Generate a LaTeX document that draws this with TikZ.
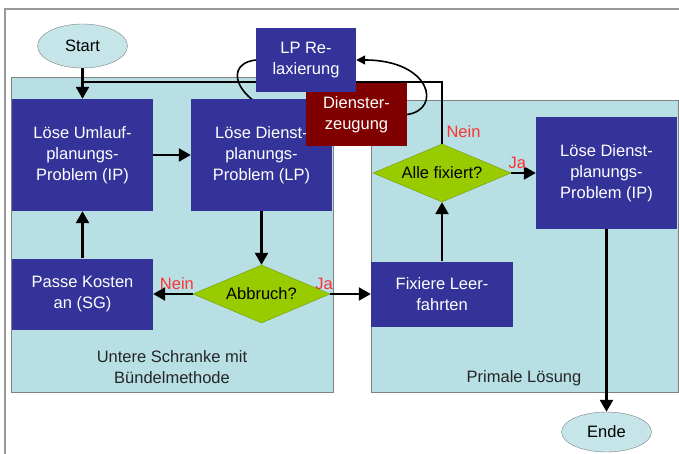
\documentclass[tikz,border=0pt]{standalone}
\usepackage{fontspec}
\setmainfont{Liberation Sans}
\usepackage{tikz}
\usetikzlibrary{
	arrows.meta,shapes
}
\definecolor{dunkelblau}{RGB}{51,51,153}
\definecolor{weinrot}{RGB}{128,0,0}
\definecolor{hellgruen}{RGB}{153,204,0}
\definecolor{tuerkis}{RGB}{183,223,228}
\definecolor{signalrot}{RGB}{255,51,51}
\pgfdeclarelayer{felder}
\pgfdeclarelayer{linien}
\pgfsetlayers{felder,linien,main}

\begin{document}
\begin{tikzpicture}[x=1pt,y=-1pt,
		font=\fontsize{16.5}{21}\selectfont,
		kasten/.style={rectangle,fill=dunkelblau,text=white,align=center,inner sep=0pt},
		raute/.style={diamond,aspect=2.4,fill=hellgruen,draw=hellgruen!75!black,inner sep=0pt,
			minimum width=137pt,minimum height=58pt},
		oval/.style={ellipse,fill=tuerkis!80!white,draw=gray,minimum width=90pt},
		marke/.style={text=signalrot}]
		\useasboundingbox (0,0) rectangle (679,454);
		\draw[gray!80,line width=1.2pt] (5,454) -- (5,9) -- (679,9);
		%
		\node[oval,minimum height=44pt] (St) at (82.5,46) {Start};
		\node[kasten,minimum width=141pt,minimum height=112pt] (UP) at (82.5,155) {Löse Umlauf-\\planungs-\\Problem (IP)};
		\node[kasten,minimum width=141pt,minimum height=112pt] (DLP) at (261.5,155) {Löse Dienst-\\planungs-\\Problem (LP)};
		\node[kasten,fill=weinrot,minimum width=101pt,minimum height=63pt] (DE) at (356.5,114.5) {Dienster-\\zeugung};
		\node[kasten,minimum width=100pt,minimum height=64pt] (LPR) at (306,60) {LP Re-\\laxierung};
		\node[kasten,minimum width=141pt,minimum height=71pt] (PK) at (82.5,294) {Passe Kosten\\an (SG)};
		\node[raute] (AB) at (261.5,294) {Abbruch?};
		\node[kasten,minimum width=142pt,minimum height=65pt] (FL) at (442,294) {Fixiere Leer-\\fahrten};
		\node[raute,minimum width=138pt] (AF) at (442,173) {Alle fixiert?};
		\node[kasten,minimum width=141pt,minimum height=112pt] (DIP) at (606.5,173) {Löse Dienst-\\planungs-\\Problem (IP)};
		\node[oval,minimum height=40pt] (En) at (606.5,432) {Ende};
		%
		\node[align=center,text=black!85] (US) at (172,367) {Untere Schranke mit\\Bündelmethode};
		\node[text=black!85] (PL) at (524,378) {Primale Lösung};
		\coordinate (knick) at (82.5,82);
		%
		\begin{pgfonlayer}{felder}
			\draw[gray,fill=tuerkis] (11,77) rectangle (333,392);
			\draw[gray,fill=tuerkis] (371,100) rectangle (678,392);
		\end{pgfonlayer}
		%
		\begin{pgfonlayer}{linien}
			\path[->,line width=2.4pt,>={Triangle[length=12pt,width=13pt]}]
				(St) edge (UP)
				(UP) edge (DLP)
				(DLP) edge (AB)
				(AB) edge node[marke,above,pos=0.4] {Nein} (PK)
				(PK) edge (UP)
				(AB) edge node[marke,above,pos=0,xshift=-6pt] {Ja} (FL)
				(FL) edge (AF)
				(AF) edge node[marke,above,pos=0.25] {Ja} (DIP)
				(DIP) edge (En);
			\draw[line width=2.4pt] (AF.north) |- node[marke,pos=0.1,right] {Nein} (knick);
			%
			\path[->,line width=1.6pt,>={Triangle[length=9pt,width=9pt]}]
				(LPR.west) edge[to path={.. controls +(-40,5) and +(-60,0) .. (\tikztotarget)}] (DE.west)
				(DE.east) edge[to path={.. controls +(35,-5) and +(75,0) .. (\tikztotarget)}] (LPR.east);
		\end{pgfonlayer}
	\end{tikzpicture}
\end{document}
